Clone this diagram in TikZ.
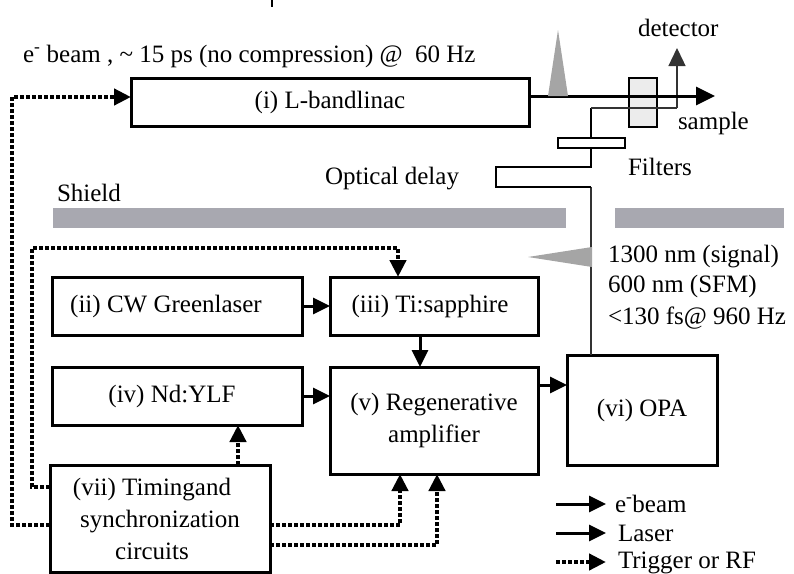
\documentclass[tikz,border=0pt]{standalone}
\usepackage{fontspec}
\setmainfont{Liberation Serif}
\usetikzlibrary{arrows.meta}
\definecolor{shieldgray}{RGB}{168,168,176}
\definecolor{pulsegray}{RGB}{165,165,165}
\definecolor{samplefill}{RGB}{236,236,236}
\begin{document}
\begin{tikzpicture}[x=1pt,y=-1pt,
  every node/.style={font=\fontsize{25}{32}\selectfont, inner sep=0pt, outer sep=0pt},
  box/.style={draw, line width=3pt, align=center},
  arr/.style={line width=3pt, -{Triangle[length=17pt,width=16pt]}},
  trig/.style={line width=4.8pt, dash pattern=on 4pt off 2pt, -{Triangle[length=17pt,width=16pt]}},
  lbl/.style={anchor=base west},
  laser/.style={line width=1.3pt, black!80},
  delay/.style={line width=2.2pt, black},
]
\useasboundingbox (0,0) rectangle (794,573);

% top tick
\coordinate (tk1) at (272,0);
\coordinate (tk2) at (272,7);
\draw[line width=2pt] (tk1) -- (tk2);

% shields
\fill[shieldgray] (53,208) rectangle (566,228);
\fill[shieldgray] (615,208) rectangle (784,228);

% labels
\node[lbl] (ebeamtxt) at (23,62) {e\textsuperscript{-} beam , \textasciitilde\ 15 ps (no compression) @~ 60 Hz};
\node[lbl] (dettxt) at (638,36) {detector};
\node[lbl] (samptxt) at (678,129) {sample};
\node[lbl] (filttxt) at (628,175) {Filters};
\node[lbl] (opttxt) at (325,184) {Optical delay};
\node[lbl] (shieldtxt) at (57,201) {Shield};
\node[lbl] (w1) at (608,262) {1300 nm (signal)};
\node[lbl] (w2) at (608,292) {600 nm (SFM)};
\node[lbl] (w3) at (608,324) {<130 fs@ 960 Hz};

% boxes
\node[box, minimum width=398, minimum height=48] (linac) at (330,102) {(i) L-bandlinac};
\node[box, minimum width=250, minimum height=58] (ii) at (177,306) {(ii) CW Greenlaser\hspace*{22pt}};
\node[box, minimum width=208, minimum height=58] (iii) at (434,306) {(iii) Ti:sapphire\hspace*{8pt}};
\node[box, minimum width=250, minimum height=58] (iv) at (177,396) {(iv) Nd:YLF\hspace*{10pt}};
\node[box, minimum width=208, minimum height=107] (v) at (434,420.5) {(v) Regenerative\\amplifier};
\node[box, minimum width=150, minimum height=110] (vi) at (642,410) {(vi) OPA};
\node[box, minimum width=220, minimum height=107] (vii) at (160,518.5) {(vii) Timingand\hspace*{16pt}\\synchronization\hspace*{16pt}\\circuits\hspace*{16pt}};

% sample
\node[draw, line width=1.5pt, fill=samplefill, minimum width=28, minimum height=49] (samplebox) at (643,102.5) {};

% laser path
\coordinate (d1) at (591,187);
\coordinate (d2) at (496,187);
\coordinate (d3) at (496,167);
\coordinate (d4) at (591,167);
\coordinate (d5) at (591,108);
\coordinate (d6) at (677,108);
\coordinate (dettip) at (677,48);
\draw[laser] ([xshift=-51pt]vi.north) -- (d1);
\draw[delay] (d1) -- (d2) -- (d3) -- (d4) -- (d5);
\draw[laser] (d5) -- (d6);
\draw[laser, -{Triangle[length=18pt,width=17pt]}] (d6) -- (dettip);

% filters
\node[draw, line width=1.5pt, fill=white, minimum width=67, minimum height=10] (filt) at (591.5,143) {};

% beam
\coordinate (beamend) at (715,96);
\draw[arr, -{Triangle[length=19pt,width=18pt]}] ([yshift=6pt]linac.east) -- (beamend);
\fill[pulsegray] (548,96) -- (558,30) -- (568,96) -- cycle;
\fill[pulsegray] (528,257) -- (592,247) -- (592,267) -- cycle;

% solid arrows
\draw[arr] (ii) -- (iii);
\draw[arr] ([xshift=-14pt]iii.south) -- ([xshift=-14pt]v.north);
\draw[arr] (iv.east) -- (iv.east -| v.west);
\coordinate (ve) at ([yshift=35.5pt]v.east);
\draw[arr] (ve) -- (ve -| vi.west);

% trigger lines
\coordinate (ta) at (12,97);
\coordinate (tb) at (32,248);
\draw[trig] ([yshift=-6.5pt]vii.west) -| (ta) -- (ta -| linac.west);
\draw[trig] ([yshift=31.5pt]vii.west) -| (tb) -| ([xshift=-36pt]iii.north);
\draw[trig] ([xshift=78pt]vii.north) -- ([xshift=61pt]iv.south);
\draw[trig] ([yshift=-6.5pt]vii.east) -| ([xshift=-34pt]v.south);
\draw[trig] ([yshift=-26.5pt]vii.east) -| ([xshift=3pt]v.south);

% legend
\coordinate (l1a) at (556,504); \coordinate (l1b) at (606,504);
\coordinate (l2a) at (556,533); \coordinate (l2b) at (606,533);
\coordinate (l3a) at (556,562); \coordinate (l3b) at (606,562);
\draw[arr] (l1a) -- (l1b);
\draw[arr] (l2a) -- (l2b);
\draw[trig] (l3a) -- (l3b);
\node[lbl] (lg1) at (615,512) {e\textsuperscript{-}beam};
\node[lbl] (lg2) at (618,541) {Laser};
\node[lbl] (lg3) at (618,568) {Trigger or RF};
\end{tikzpicture}
\end{document}
